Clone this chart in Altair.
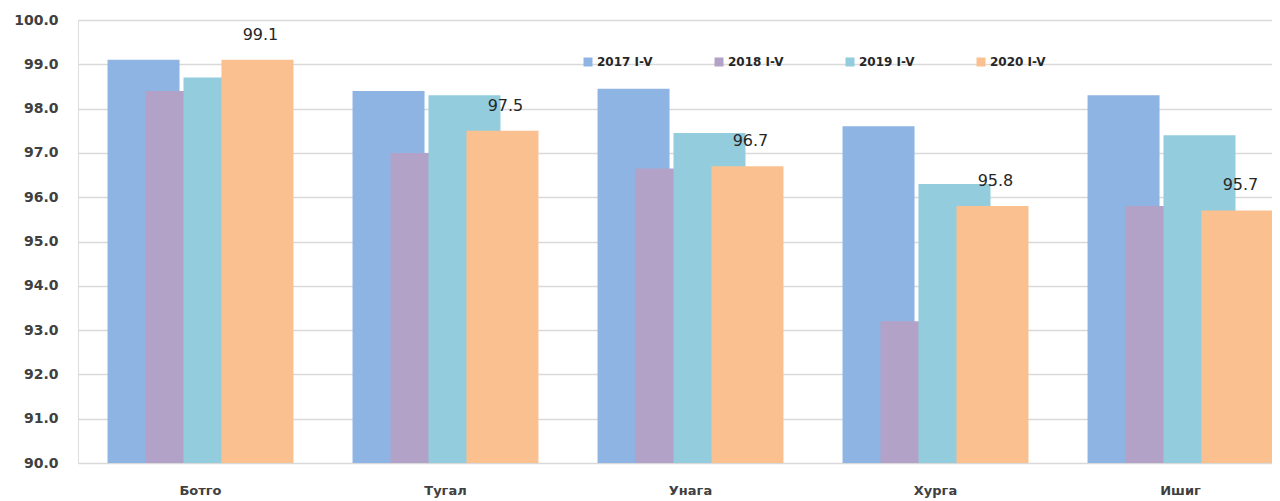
import altair as alt
import pandas as pd

categories = ["Ботго", "Тугал", "Унага", "Хурга", "Ишиг"]
series = ["2017 I-V", "2018 I-V", "2019 I-V", "2020 I-V"]
v2017 = [99.1, 98.4, 98.45, 97.6, 98.3]
v2018 = [98.4, 97.0, 96.65, 93.2, 95.8]
v2019 = [98.7, 98.3, 97.45, 96.3, 97.4]
v2020 = [99.1, 97.5, 96.7, 95.8, 95.7]
colors = ["#8eb4e3", "#b3a2c7", "#93cddd", "#fac090"]
y_ticks = [90, 91, 92, 93, 94, 95, 96, 97, 98, 99, 100]

rows = []
for s, vals in zip(series, [v2017, v2018, v2019, v2020]):
    for c, v in zip(categories, vals):
        rows.append({"category": c, "series": s, "value": v})
df = pd.DataFrame(rows)

FONT = "DejaVu Sans"

x_enc = alt.X(
    "category:N", sort=categories,
    scale=alt.Scale(paddingInner=0.38, paddingOuter=0.19, range=[0, 1225]),
    axis=alt.Axis(title=None, labelAngle=0, ticks=False, domain=False, grid=False,
                  labelPadding=21, labelFontSize=13, labelFontWeight="bold",
                  labelColor="#404040", labelFont=FONT),
)
xo_enc = alt.XOffset("series:N", sort=series,
                     scale=alt.Scale(paddingInner=0, paddingOuter=0))
y_enc = alt.Y(
    "value:Q",
    scale=alt.Scale(domain=[90, 100], zero=False, nice=False),
    axis=alt.Axis(values=y_ticks, format=".1f", title=None, ticks=False, domain=False,
                  labelPadding=20, gridColor="#d9d9d9", gridWidth=1.5,
                  labelFontSize=14, labelFontWeight="bold", labelColor="#404040",
                  labelFont=FONT),
)

bars = alt.Chart(df).mark_bar(width=72).encode(
    x=x_enc,
    xOffset=xo_enc,
    y=y_enc,
    y2=alt.datum(90),
    color=alt.Color(
        "series:N", sort=series,
        scale=alt.Scale(domain=series, range=colors),
        legend=alt.Legend(title=None, orient="none", legendX=504, legendY=36,
                          direction="horizontal", columns=4, symbolType="square",
                          symbolSize=81, symbolStrokeWidth=0, labelFontSize=12,
                          labelFont=FONT, labelFontWeight="bold", labelColor="#262626",
                          columnPadding=60, labelOffset=3),
    ),
)

labels = alt.Chart(df).transform_filter(
    alt.datum.series == "2020 I-V"
).mark_text(dy=-25, dx=3, fontSize=16, font=FONT, color="#262626", baseline="middle").encode(
    x=x_enc,
    xOffset=xo_enc,
    y=alt.Y("value:Q"),
    text=alt.Text("value:Q", format=".1f"),
)

chart = alt.layer(bars, labels).properties(
    width=1194, height=443,
    autosize=alt.AutoSizeParams(type="none"),
    padding={"left": 70, "top": 12, "right": 0, "bottom": 38},
).configure_view(stroke=None).configure(background="white")

chart.save("out.html", embed_options={"renderer": "svg", "actions": False})
